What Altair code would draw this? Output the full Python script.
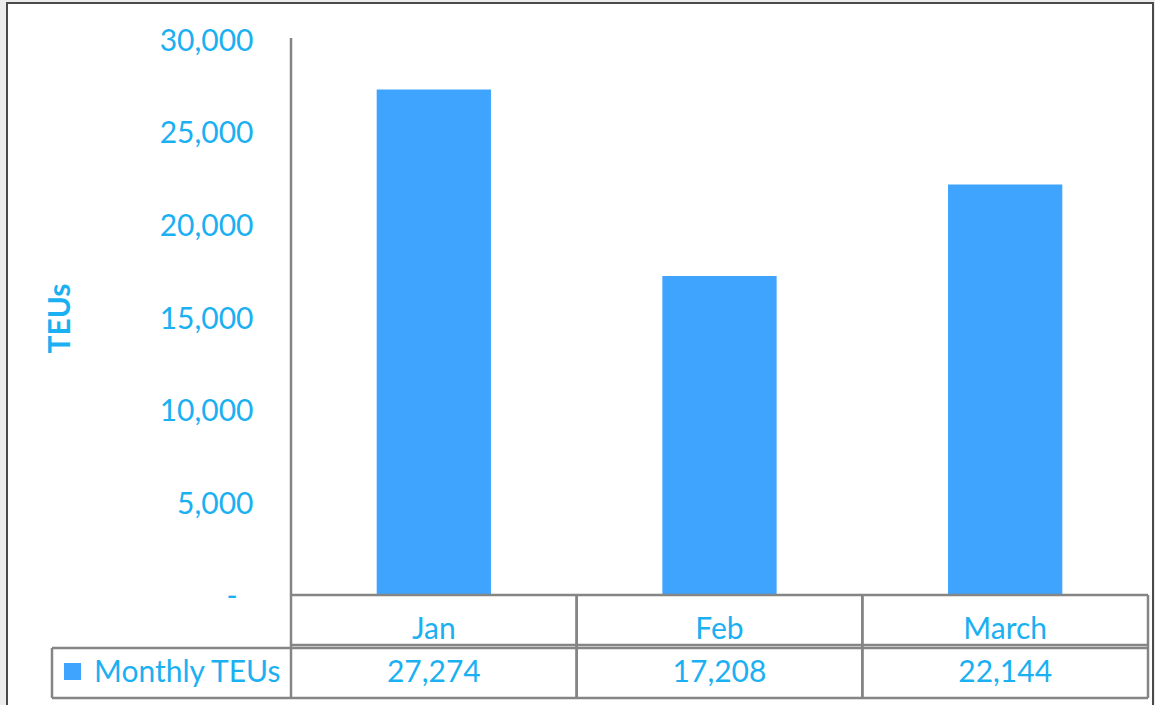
import altair as alt
import pandas as pd

months = ["Jan", "Feb", "March"]
teus = [27274, 17208, 22144]
y_ticks = [0, 5000, 10000, 15000, 20000, 25000, 30000]
series_name = "Monthly TEUs"

df = pd.DataFrame({"Month": months, "TEUs": teus})
one = pd.DataFrame({"k": [0]})

W, H = 857, 556
TXT = "#1AB0F2"
BAR = "#3FA4FD"
GRID = "#858585"
FONT = "Lato"
FS = 30

xenc = alt.X("Month:N", sort=months, axis=None,
             scale=alt.Scale(paddingInner=0, paddingOuter=0))

frame = alt.Chart(one).mark_rect(fill="white", stroke="#4a4a4a", strokeWidth=2).encode(
    x=alt.value(-284), x2=alt.value(862), y=alt.value(-36), y2=alt.value(720)
)

bars = alt.Chart(df).mark_bar(color=BAR, width={"band": 0.4}).encode(
    x=xenc,
    y=alt.Y("TEUs:Q", scale=alt.Scale(domain=[0, 30000], nice=False),
            axis=alt.Axis(values=y_ticks, grid=False, ticks=False, domain=False,
                          labelExpr="datum.value == 0 ? '' : format(datum.value, ',')",
                          labelFont=FONT, labelFontSize=FS, labelColor=TXT,
                          labelPadding=38, labelOffset=2, zindex=2,
                          title="TEUs", titleFont=FONT, titleFontSize=FS,
                          titleFontWeight="bold", titleColor=TXT,
                          titleX=-231, titleY=H / 2 + 1, titleAngle=270,
                          titleAlign="center", titleBaseline="middle")),
)

zero_lbl = alt.Chart(one).mark_text(text="-", font=FONT, fontSize=FS, color=TXT,
                                    align="center", baseline="middle").encode(
    x=alt.value(-59), y=alt.value(H + 2)
)

yaxis_line = alt.Chart(one).mark_rule(color=GRID, strokeWidth=2.5).encode(
    x=alt.value(0), y=alt.value(-1), y2=alt.value(H)
)

vlines_start = alt.Chart(df).mark_rule(color=GRID, strokeWidth=2.5).encode(
    x=alt.X("Month:N", sort=months, bandPosition=0, axis=None),
    y=alt.value(H), y2=alt.value(659)
)
vlines_end = alt.Chart(df).mark_rule(color=GRID, strokeWidth=2.5).encode(
    x=alt.X("Month:N", sort=months, bandPosition=1, axis=None),
    y=alt.value(H), y2=alt.value(659)
)

def hline(y, x0, x1):
    return alt.Chart(one).mark_rule(color=GRID, strokeWidth=2.5).encode(
        x=alt.value(x0), x2=alt.value(x1), y=alt.value(y)
    )

h1 = hline(H, 0, W)
h2 = hline(606, 0, W)
h3 = hline(609, -239, W)
h4 = hline(659, -239, W)
vleft = alt.Chart(one).mark_rule(color=GRID, strokeWidth=2.5).encode(
    x=alt.value(-239), y=alt.value(609), y2=alt.value(659)
)

month_txt = alt.Chart(df).mark_text(font=FONT, fontSize=FS, color=TXT,
                                    align="center", baseline="alphabetic").encode(
    x=alt.X("Month:N", sort=months, axis=None), y=alt.value(600), text="Month:N"
)
val_txt = alt.Chart(df).mark_text(font=FONT, fontSize=FS, color=TXT,
                                  align="center", baseline="alphabetic").encode(
    x=alt.X("Month:N", sort=months, axis=None), y=alt.value(643),
    text=alt.Text("TEUs:Q", format=",")
)

legend_sym = alt.Chart(one).mark_rect(color=BAR).encode(
    x=alt.value(-227), x2=alt.value(-210), y=alt.value(624), y2=alt.value(641)
)
legend_txt = alt.Chart(one).mark_text(text=series_name, font=FONT, fontSize=FS, color=TXT,
                                      align="left", baseline="alphabetic").encode(
    x=alt.value(-197), y=alt.value(643)
)

chart = alt.layer(
    frame, bars, yaxis_line, zero_lbl, vlines_start, vlines_end,
    h1, h2, h3, h4, vleft, month_txt, val_txt, legend_sym, legend_txt
).properties(
    width=W, height=H,
    autosize=alt.AutoSizeParams(type="none"),
    padding={"left": 291, "top": 39, "right": 7, "bottom": 110},
    background="#EDEDED",
).configure_view(stroke=None)

chart.save("out.html", embed_options={"renderer": "svg", "actions": False})
